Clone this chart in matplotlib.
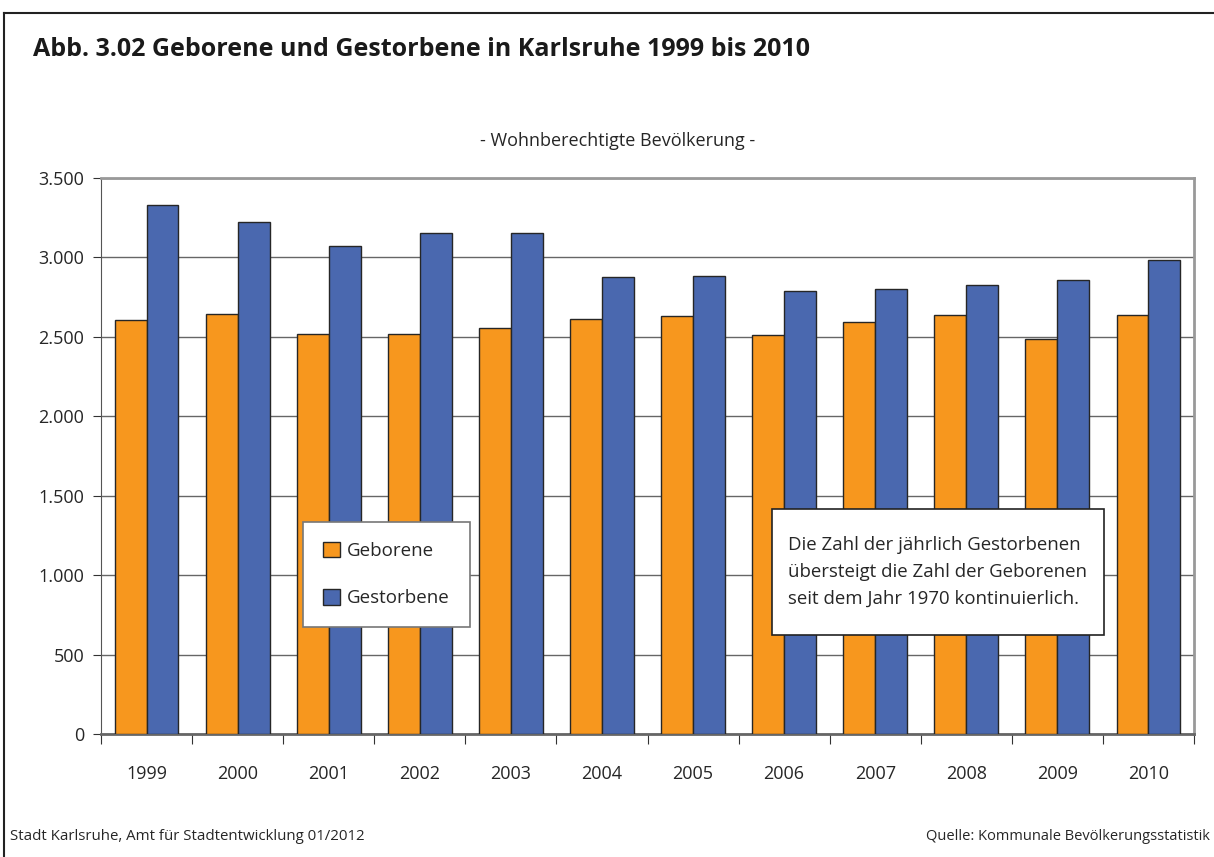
import numpy as np
import matplotlib.pyplot as plt
from matplotlib.patches import Rectangle
from matplotlib.ticker import FuncFormatter

years = ["1999", "2000", "2001", "2002", "2003", "2004",
         "2005", "2006", "2007", "2008", "2009", "2010"]
geborene = [2605, 2643, 2515, 2517, 2555, 2613, 2630, 2513, 2593, 2637, 2485, 2637]
gestorbene = [3330, 3223, 3072, 3154, 3156, 2877, 2883, 2788, 2803, 2826, 2861, 2981]

plt.rcParams['font.family'] = ['Open Sans', 'DejaVu Sans']

fig = plt.figure(figsize=(12.14, 8.57), dpi=100)
W, H = 1214, 857
ax = fig.add_axes([101 / W, 1 - 734 / H, (1194 - 101) / W, (734 - 178) / H])

x = np.arange(len(years))
w = 0.35
ax.bar(x - w / 2, geborene, w, color="#F7971E", edgecolor="#262626", linewidth=1, label="Geborene", zorder=3)
ax.bar(x + w / 2, gestorbene, w, color="#4A68AF", edgecolor="#262626", linewidth=1, label="Gestorbene", zorder=3)

ax.set_xlim(-0.5, len(years) - 0.5)
ax.set_ylim(0, 3500)
ax.set_yticks(np.arange(0, 3501, 500))
ax.yaxis.set_major_formatter(FuncFormatter(lambda v, p: f"{int(v):,}".replace(",", ".")))
ax.grid(axis="y", color="#666666", linewidth=1, zorder=0)
ax.set_axisbelow(True)

# ticks between categories, labels centred
ax.set_xticks(np.arange(-0.5, len(years), 1))
ax.set_xticklabels([])
ax.set_xticks(x, minor=True)
ax.set_xticklabels(years, minor=True)
ax.tick_params(axis="x", which="major", direction="out", length=7, color="#333333")
ax.tick_params(axis="x", which="minor", length=0, pad=22, labelsize=13, labelcolor="#262626")
ax.tick_params(axis="y", direction="out", length=6, color="#333333", labelsize=13, labelcolor="#262626", pad=6)

for s in ["top", "right"]:
    ax.spines[s].set_color("#999999")
    ax.spines[s].set_linewidth(2)
ax.spines["left"].set_color("#555555")
ax.spines["bottom"].set_color("#666666")
ax.spines["bottom"].set_linewidth(2)

leg = ax.legend(loc="upper left", bbox_to_anchor=((303 - 101) / (1194 - 101), (734 - 522) / (734 - 178)),
                frameon=True, fancybox=False, framealpha=1, fontsize=13.5, labelspacing=1.55,
                handlelength=0.9, handleheight=0.9, handletextpad=0.4,
                borderpad=1.05, borderaxespad=0)
leg.get_frame().set_edgecolor("#777777")
leg.get_frame().set_linewidth(1.2)
for t in leg.get_texts():
    t.set_color("#262626")
leg.set_zorder(5)

# annotation box
fig.patches.append(Rectangle((772 / W, 1 - 635 / H), (1104 - 772) / W, (635 - 509) / H,
                             transform=fig.transFigure, facecolor="white", edgecolor="#222222",
                             linewidth=1.2, zorder=10))
fig.text(788 / W, 1 - 572 / H,
         "Die Zahl der jährlich Gestorbenen\nübersteigt die Zahl der Geborenen\nseit dem Jahr 1970 kontinuierlich.",
         fontsize=13.4, color="#262626", va="center", ha="left", linespacing=1.65, zorder=11)

fig.text(33 / W, 1 - 50 / H, "Abb. 3.02 Geborene und Gestorbene in Karlsruhe 1999 bis 2010",
         fontsize=18, fontweight="bold", color="#1a1a1a", va="center", ha="left")
fig.text(618 / W, 1 - 141 / H, "- Wohnberechtigte Bevölkerung -",
         fontsize=13, color="#262626", va="center", ha="center")
fig.text(10 / W, 1 - 837 / H, "Stadt Karlsruhe, Amt für Stadtentwicklung 01/2012",
         fontsize=10.8, color="#262626", va="center", ha="left")
fig.text(1210 / W, 1 - 837 / H, "Quelle: Kommunale Bevölkerungsstatistik",
         fontsize=10.5, color="#262626", va="center", ha="right")

# outer frame lines (top and left)
fig.lines.append(plt.Line2D([4 / W, 1], [1 - 13 / H, 1 - 13 / H], transform=fig.transFigure,
                            color="#222222", linewidth=1.5))
fig.lines.append(plt.Line2D([4 / W, 4 / W], [0, 1 - 13 / H], transform=fig.transFigure,
                            color="#222222", linewidth=1.5))

fig.savefig("out.png", dpi=100)
